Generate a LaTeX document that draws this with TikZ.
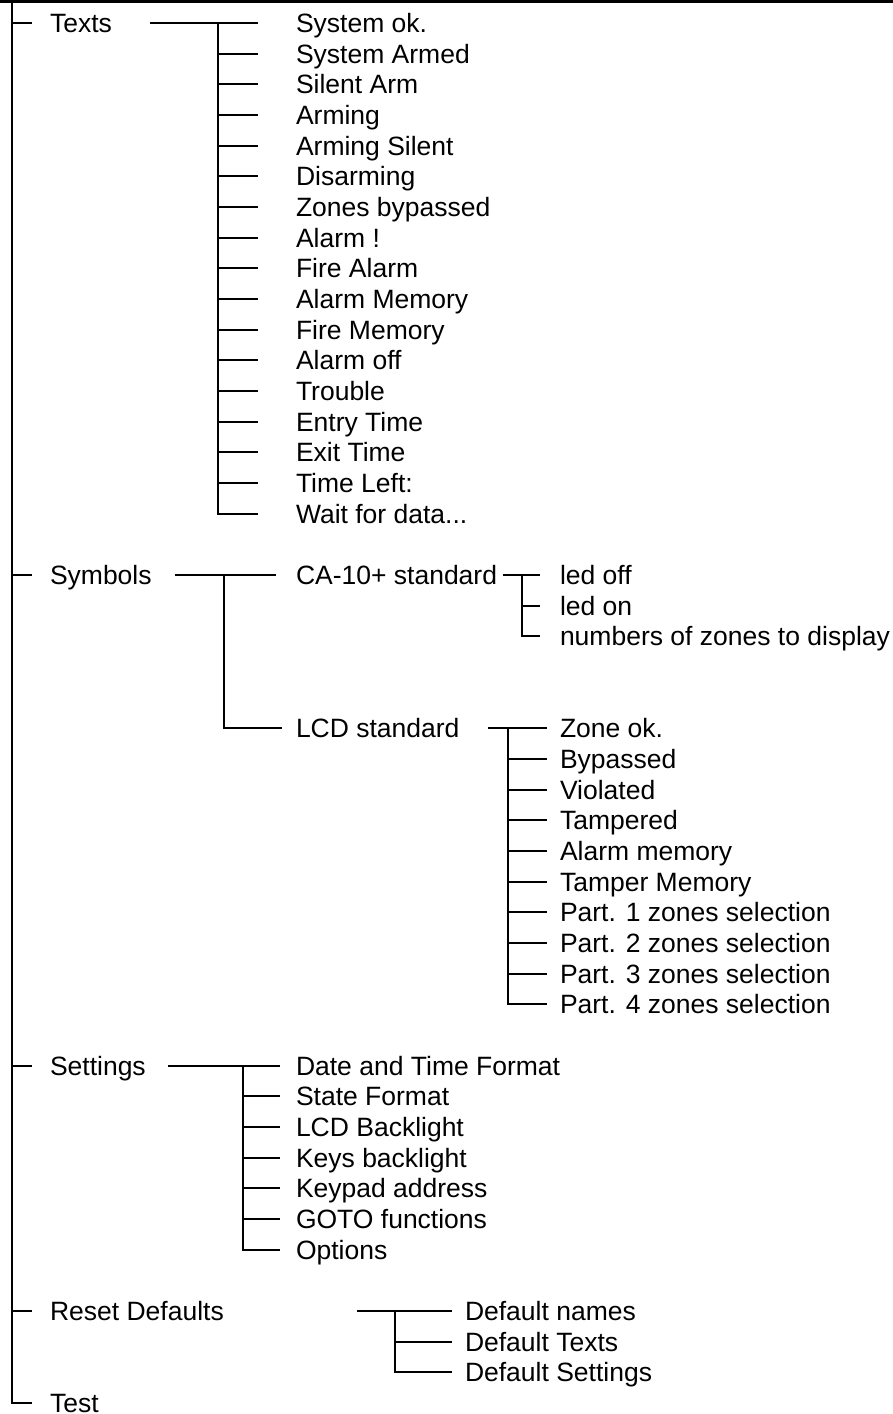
\documentclass[tikz,border=0pt]{standalone}
\usepackage{fontspec}
\setmainfont{Liberation Sans}
\newcommand{\rowy}[1]{23+(#1)*30.67}
\newcommand{\waitdata}{Wait for data...}
\begin{document}
\begin{tikzpicture}[x=1pt,y=-1pt,line width=2pt,
  lbl/.style={anchor=west,inner sep=0pt,text height=19pt,text depth=0pt,
              font=\fontsize{26.5}{30}\selectfont}]
\useasboundingbox (0,0) rectangle (893,1414);
% top rule
\coordinate (topl) at (0,1.6);
\coordinate (topr) at (893,1.6);
\draw[line width=3pt] (topl) -- (topr);
% level 1
\node[lbl] (texts)    at (49,{\rowy{0}})  {Texts};
\node[lbl] (symbols)  at (49,{\rowy{18}}) {Symbols};
\node[lbl] (settings) at (49,{\rowy{34}}) {Settings};
\node[lbl] (reset)    at (49,{\rowy{42}}) {Reset Defaults};
\node[lbl] (test)     at (49,{\rowy{45}}) {Test};
\coordinate (mtop) at (12,1.6);
\draw (mtop) |- ([xshift=-17pt]test.west);
\foreach \n in {texts,symbols,settings,reset}
  \draw (mtop |- \n.west) -- ([xshift=-17pt]\n.west);
% Texts subtree
\foreach \t [count=\i from 0] in {System ok.,System Armed,Silent Arm,Arming,Arming Silent,Disarming,Zones bypassed,Alarm !,Fire Alarm,Alarm Memory,Fire Memory,Alarm off,Trouble,Entry Time,Exit Time,Time Left:,\waitdata}
  \node[lbl] (t\i) at (295,{\rowy{\i}}) {\t};
\coordinate (ts) at (150,{\rowy{0}});
\coordinate (tv) at (218,{\rowy{0}});
\draw (ts) -- ([xshift=-37pt]t0.west);
\foreach \i in {1,...,15}
  \draw (tv |- t\i.west) -- ([xshift=-37pt]t\i.west);
\draw (tv) |- ([xshift=-37pt]t16.west);
% Symbols subtree
\node[lbl] (ca)  at (295,{\rowy{18}}) {CA-10+ standard};
\node[lbl] (lcd) at (295,{\rowy{23}}) {LCD standard};
\coordinate (ss) at (175,{\rowy{18}});
\coordinate (sv) at (224,{\rowy{18}});
\draw (ss) -- ([xshift=-19pt]ca.west);
\draw (sv) |- ([xshift=-13pt]lcd.west);
% CA-10+ subtree
\foreach \t [count=\i from 0] in {led off,led on,numbers of zones to display}
  \node[lbl] (c\i) at (559,{\rowy{18+\i}}) {\t};
\coordinate (cs) at (503,{\rowy{18}});
\coordinate (cv) at (522,{\rowy{18}});
\draw (cs) -- ([xshift=-19pt]c0.west);
\draw (cv |- c1.west) -- ([xshift=-19pt]c1.west);
\draw (cv) |- ([xshift=-19pt]c2.west);
% LCD subtree
\foreach \t [count=\i from 0] in {Zone ok.,Bypassed,Violated,Tampered,Alarm memory,Tamper Memory,Part. 1 zones selection,Part. 2 zones selection,Part. 3 zones selection,Part. 4 zones selection}
  \node[lbl] (l\i) at (559,{\rowy{23+\i}}) {\t};
\coordinate (ls) at (488,{\rowy{23}});
\coordinate (lv) at (508,{\rowy{23}});
\draw (ls) -- ([xshift=-12pt]l0.west);
\foreach \i in {1,...,8}
  \draw (lv |- l\i.west) -- ([xshift=-12pt]l\i.west);
\draw (lv) |- ([xshift=-12pt]l9.west);
% Settings subtree
\foreach \t [count=\i from 0] in {Date and Time Format,State Format,LCD Backlight,Keys backlight,Keypad address,GOTO functions,Options}
  \node[lbl] (e\i) at (295,{\rowy{34+\i}}) {\t};
\coordinate (es) at (168,{\rowy{34}});
\coordinate (ev) at (243,{\rowy{34}});
\draw (es) -- ([xshift=-15pt]e0.west);
\foreach \i in {1,...,5}
  \draw (ev |- e\i.west) -- ([xshift=-15pt]e\i.west);
\draw (ev) |- ([xshift=-15pt]e6.west);
% Reset subtree
\foreach \t [count=\i from 0] in {Default names,Default Texts,Default Settings}
  \node[lbl] (r\i) at (464,{\rowy{42+\i}}) {\t};
\coordinate (rs) at (357,{\rowy{42}});
\coordinate (rv) at (395,{\rowy{42}});
\draw (rs) -- ([xshift=-12pt]r0.west);
\draw (rv |- r1.west) -- ([xshift=-12pt]r1.west);
\draw (rv) |- ([xshift=-12pt]r2.west);
\end{tikzpicture}
\end{document}
